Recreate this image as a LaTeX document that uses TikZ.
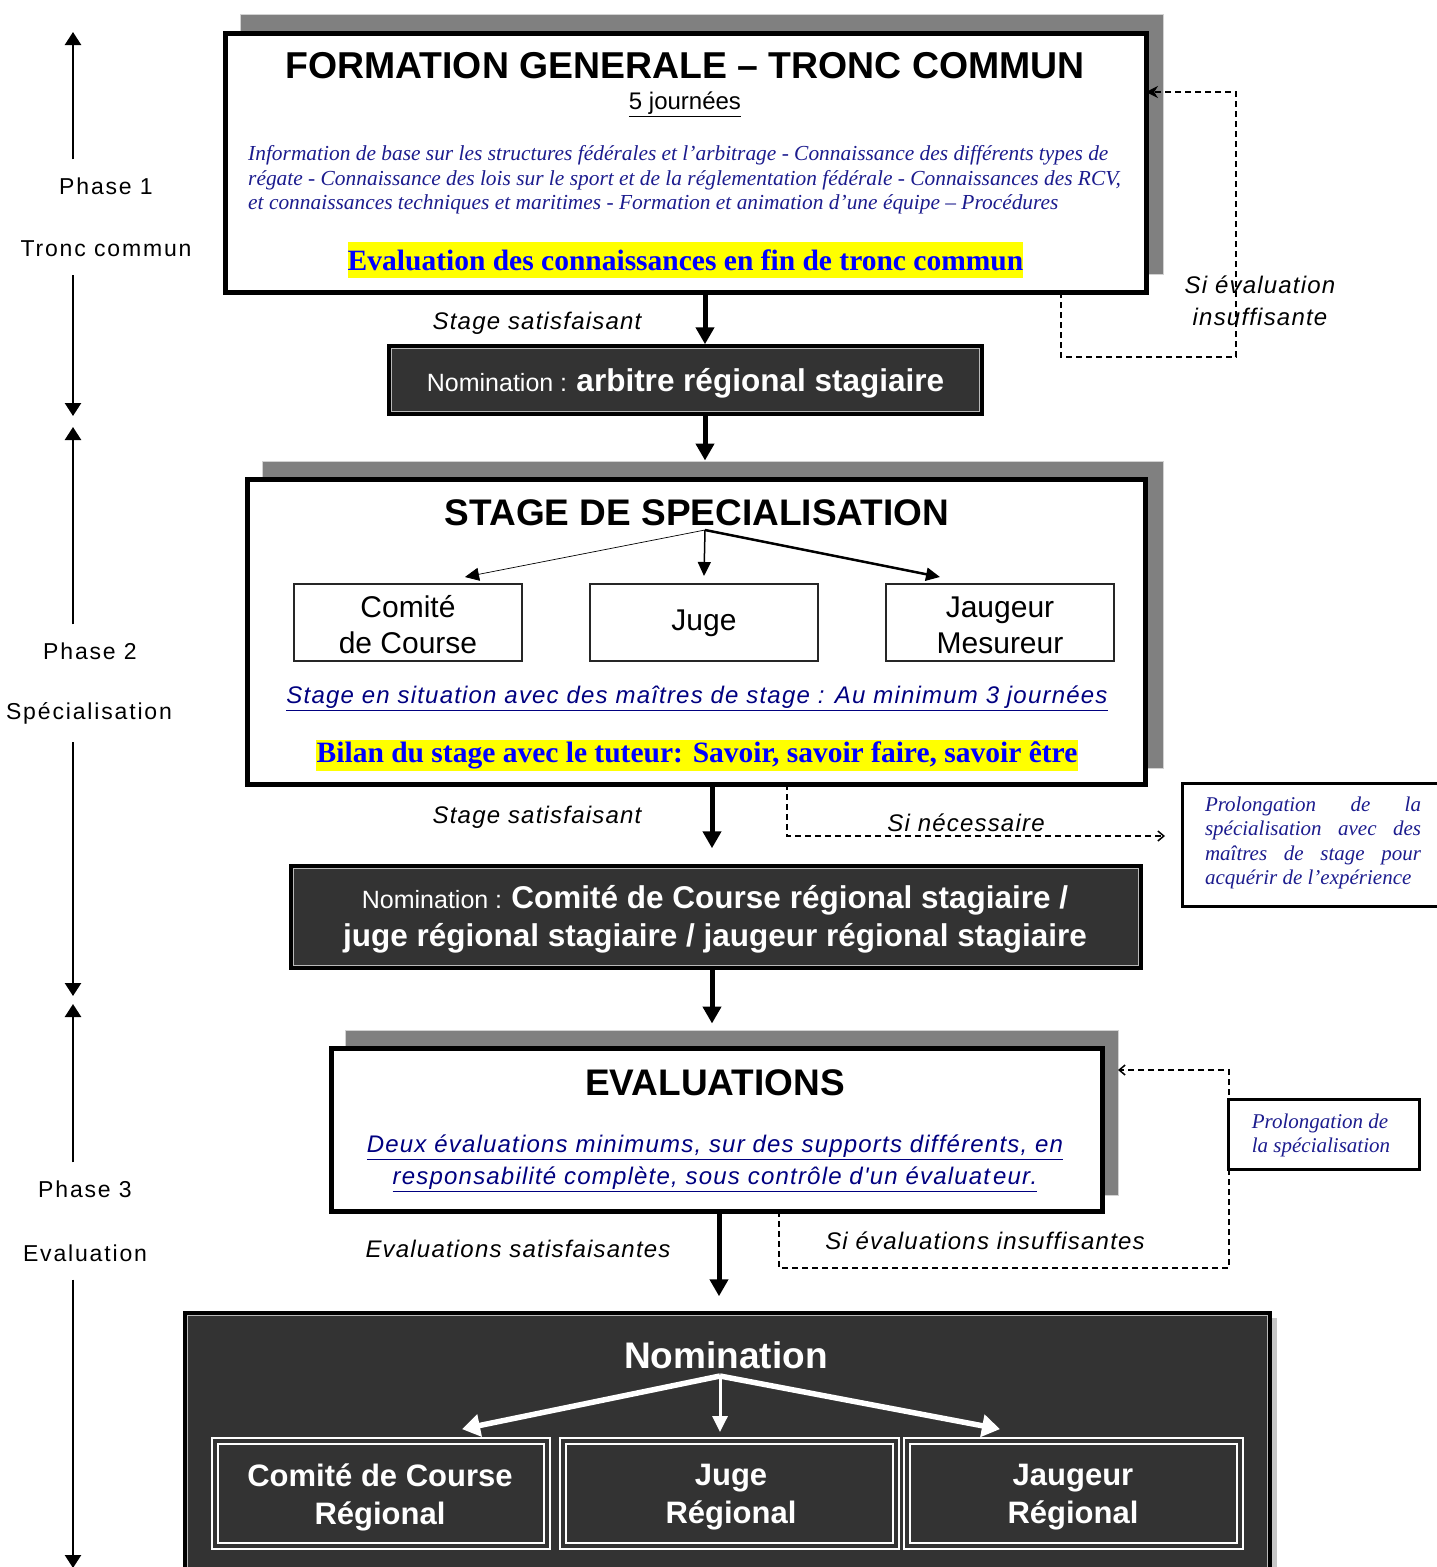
\documentclass[tikz,border=0pt]{standalone}
\usepackage{fontspec}
\setmainfont{Liberation Serif}
\setsansfont{Liberation Sans}
\newfontfamily\arial{Liberation Sans}
\newfontfamily\arialsp[LetterSpace=8]{Liberation Sans}
\newfontfamily\arialit[LetterSpace=5]{Liberation Sans}
\newfontfamily\tnr{Liberation Serif}
\usetikzlibrary{arrows.meta}
\definecolor{navyt}{HTML}{1C1C8E}
\definecolor{ulnavy}{HTML}{000080}
\definecolor{darkfill}{HTML}{333333}
\definecolor{shad}{HTML}{808080}
\definecolor{hlblue}{HTML}{0000FF}
\definecolor{hlyellow}{HTML}{FFFF00}
\newcommand\fsz[2]{\fontsize{#1}{#2}\selectfont}
\newcommand\jl[1]{\makebox[216pt][s]{#1}}
\newcommand\rectnode[6]{\node[#2, minimum width={#5-#3}, minimum height={#6-#4}] (#1) at ({(#3+#5)/2},{(#4+#6)/2}) {};}
\begin{document}
\begin{tikzpicture}[x=1pt,y=-1pt,
  lab/.style={inner sep=0pt},
  phlab/.style={inner sep=18pt, font=\arialsp\fsz{23}{26}},
  itlab/.style={inner sep=0pt, font=\arialit\itshape\fsz{24}{32}},
  shadowbox/.style={fill=shad, draw=gray!35, line width=1pt, inner sep=0pt},
  mainbox/.style={draw=black, line width=5pt, fill=white, inner sep=0pt},
  darkbox/.style={draw=black, line width=3.5pt, fill=darkfill, inner sep=0pt},
  subbox/.style={draw=black!85, line width=2pt, fill=white, inner sep=0pt},
  regbox/.style={draw=white, double=darkfill, double distance=4pt, line width=1.8pt, inner sep=0pt},
  prolbox/.style={draw=black, line width=3pt, fill=white, inner sep=0pt},
  flow/.style={line width=5pt, -{Triangle[length=17pt,width=18pt]}},
  thinflow/.style={-{Triangle[length=14pt,width=13pt]}},
  whiteflow/.style={draw=white, -{Triangle[length=18pt,width=22pt]}},
  loopline/.style={dash pattern=on 6pt off 4pt, line width=1.5pt},
  phase/.style={line width=2.5pt, -{Triangle[length=13pt,width=16pt]}},
  innerline/.style={draw=gray!55, line width=0.8pt}
]
\useasboundingbox[fill=white] (0,0) rectangle (1436,1567);

% ---------- coordinates for columns ----------
\coordinate (x73) at (73,0);
\coordinate (c705) at (705,0);
\coordinate (c712) at (712,0);
\coordinate (c719) at (719,0);

% ---------- shadows ----------
\rectnode{sh1}{shadowbox}{240}{14}{1163}{274}
\rectnode{sh2}{shadowbox}{262}{461}{1163}{768}
\rectnode{sh3}{shadowbox}{345}{1030}{1118}{1195}
\fill[gray!45] (1190,1318) rectangle (1277,1575);

% ---------- dashed loops (behind boxes) ----------
\coordinate (l1end) at (1146,92);
\draw[loopline, -{Stealth[length=12pt,width=12pt]}] (1061,292) -- (1061,357) -- (1236,357) -- (1236,92) -- (l1end);
\coordinate (l2end) at (1165,836);
\draw[loopline, -{Straight Barb[length=6pt,width=10pt]}] (787,784) -- (787,836) -- (l2end);
\coordinate (l3end) at (1118,1070);
\draw[loopline, -{Straight Barb[length=6pt,width=10pt]}] (779,1211) -- (779,1268) -- (1229,1268) -- (1229,1070) -- (l3end);

% ---------- boxes ----------
\rectnode{box1}{mainbox}{225}{33}{1146}{292}
\rectnode{nom1}{darkbox}{389}{346}{982}{414}
\rectnode{box2}{mainbox}{247}{479}{1145}{784}
\rectnode{sb1}{subbox}{294}{584}{522}{661}
\rectnode{sb2}{subbox}{590}{584}{818}{661}
\rectnode{sb3}{subbox}{886}{584}{1114}{661}
\rectnode{nom2}{darkbox}{291}{866}{1141}{968}
\rectnode{box3}{mainbox}{331}{1048}{1102}{1211}
\rectnode{big}{darkbox}{185}{1313}{1270}{1578}
\rectnode{rb1}{regbox}{215}{1441}{547}{1546}
\rectnode{rb2}{regbox}{563}{1441}{896}{1546}
\rectnode{rb3}{regbox}{907}{1441}{1240}{1546}
\rectnode{prol1}{prolbox}{1182}{783}{1450}{906}
\rectnode{prol2}{prolbox}{1228}{1099}{1419}{1169}

\draw[innerline] ([shift={(4.5pt,4.5pt)}]nom1.south west) rectangle ([shift={(-4.5pt,-4.5pt)}]nom1.north east);
\draw[innerline] ([shift={(4.5pt,4.5pt)}]nom2.south west) rectangle ([shift={(-4.5pt,-4.5pt)}]nom2.north east);
\draw[innerline] ([shift={(4.5pt,4.5pt)}]big.south west) rectangle ([shift={(-4.5pt,-4.5pt)}]big.north east);

% ---------- box 1 content ----------
\node[lab, font=\arial\bfseries\fsz{37.4}{40}] (t1) at (685,66) {FORMATION GENERALE – TRONC COMMUN};
\node[lab, font=\arial\fsz{24}{26}] (t1b) at (685,104) {\underline{5 journées}};
\node[lab, anchor=west, text=navyt, align=left, font=\tnr\itshape\fsz{21.4}{24.5}] (t1c) at (248,180) {Information de base sur les structures fédérales et l’arbitrage - Connaissance des différents types de\\régate  - Connaissance des lois sur le sport et de la réglementation fédérale - Connaissances des RCV,\\et connaissances techniques et maritimes - Formation et animation d’une équipe  – Procédures};
\node[fill=hlyellow, minimum width=675pt, minimum height=36pt, inner sep=0pt, text=hlblue, font=\tnr\bfseries\fsz{29.5}{30}] (hl1) at (685.5,260) {Evaluation des connaissances en fin de tronc commun};

% ---------- nomination 1 ----------
\node[lab, text=white] (nom1t) at (685.5,383) {\arial\fsz{25}{28}Nomination : \fsz{31.5}{34}\bfseries arbitre régional stagiaire};

% ---------- box 2 content ----------
\node[lab, font=\arial\bfseries\fsz{37}{40}] (t2) at (697,513) {STAGE DE SPECIALISATION};
\coordinate (hub2) at (705,530);
\draw[thinflow, line width=0.7pt] (hub2) -- ([xshift=57pt,yshift=6pt]sb1.north);
\draw[thinflow, line width=1.5pt] (hub2) -- ([yshift=7pt]sb2.north);
\draw[thinflow, line width=2.5pt] (hub2) -- ([xshift=-60pt,yshift=6pt]sb3.north);
\node[lab, align=center, font=\arial\fsz{30}{36}] (sb1t) at (408,625) {Comité\\de Course};
\node[lab, font=\arial\fsz{30}{36}] (sb2t) at (704,623) {Juge};
\node[lab, align=center, font=\arial\fsz{30}{36}] (sb3t) at (1000,625) {Jaugeur\\Mesureur};
\node[lab, text=ulnavy, font=\arialit\itshape\fsz{24}{26}] (st2) at (697,698) {\underline{Stage en situation avec des maîtres de stage : Au minimum 3 journées}};
\node[fill=hlyellow, minimum width=762pt, minimum height=31pt, inner sep=0pt, text=hlblue, font=\tnr\bfseries\fsz{29.5}{30}] (hl2) at (697,755) {Bilan du stage avec le tuteur: Savoir, savoir faire, savoir être};

% ---------- nomination 2 ----------
\node[lab, text=white, align=center, font=\arial\fsz{31.5}{38}] (nom2t) at (715,919) {{\fsz{25}{38}Nomination : }\textbf{Comité de Course régional stagiaire /}\\\textbf{juge régional stagiaire / jaugeur régional stagiaire}};

% ---------- box 3 content ----------
\node[lab, font=\arial\bfseries\fsz{37}{40}] (t3) at (715,1083) {EVALUATIONS};
\node[lab, text=ulnavy, align=center, font=\arialit\itshape\fsz{24}{32}] (t3b) at (715,1163) {\underline{Deux évaluations minimums, sur des supports différents, en}\\\underline{responsabilité complète, sous contrôle d'un évaluat\hspace{3pt}eur.}};

% ---------- big nomination ----------
\node[lab, text=white, font=\arial\bfseries\fsz{37}{40}] (t4) at (726,1355) {Nomination};
\coordinate (hub4) at (720,1376);
\draw[whiteflow, line width=5.5pt] (hub4) -- ([xshift=81pt,yshift=11pt]rb1.north);
\draw[whiteflow, line width=3pt, -{Triangle[length=16pt,width=15pt]}] (hub4) -- ([xshift=-9.5pt,yshift=8pt]rb2.north);
\draw[whiteflow, line width=5.5pt] (hub4) -- ([xshift=-73.5pt,yshift=11pt]rb3.north);
\node[lab, text=white, align=center, font=\arial\bfseries\fsz{31}{38}] (rb1t) at (380,1497) {Comité de Course\\Régional};
\node[lab, text=white, align=center, font=\arial\bfseries\fsz{31}{38}] (rb2t) at (731,1497) {Juge\\Régional};
\node[lab, text=white, align=center, font=\arial\bfseries\fsz{31}{38}] (rb3t) at (1073,1497) {Jaugeur\\Régional};

% ---------- prolongation texts ----------
\node[lab, text=navyt, align=left, font=\tnr\itshape\fsz{21}{24.6}] (prol1t) at (1313,843) {\jl{Prolongation de la}\\\jl{spécialisation avec des}\\\jl{maîtres de stage pour}\\acquérir de l’expérience};
\node[lab, text=navyt, align=left, font=\tnr\itshape\fsz{21}{24}] (prol2t) at (1321,1135) {Prolongation de\\la spécialisation};

% ---------- main flow arrows ----------
\draw[flow] (box1.south -| c705) -- (nom1.north -| c705);
\draw[flow] (nom1.south -| c705) -- (sh2.north -| c705);
\path (nom2.north -| c712) ++(0,-16) coordinate (n2in);
\draw[flow] (box2.south -| c712) -- (n2in);
\draw[flow] (nom2.south -| c712) -- ([yshift=6pt]sh3.north -| c712);
\path (big.north -| c719) ++(0,-15) coordinate (bigin);
\draw[flow] (box3.south -| c719) -- (bigin);

% ---------- flow labels ----------
\node[itlab] (lb1) at (537,323) {Stage satisfaisant};
\node[itlab] (lb2) at (537,817) {Stage satisfaisant};
\node[itlab] (lb3) at (518,1249) {Evaluations satisfaisantes};
\node[itlab, align=center] (lb4) at (1260,301) {Si évaluation\\insuffisante};
\node[itlab] (lb5) at (966,823) {Si nécessaire};
\node[itlab] (lb6) at (985,1241) {Si évaluations insuffisantes};

% ---------- phases ----------
\node[phlab] (p1a) at (106,186) {Phase 1};
\node[phlab] (p1b) at (106,249) {Tronc commun};
\node[phlab] (p2a) at (90,651) {Phase 2};
\node[phlab] (p2b) at (89,713) {Spécialisation};
\node[phlab] (p3a) at (85,1189) {Phase 3};
\node[phlab] (p3b) at (85,1253) {Evaluation};
\coordinate (p1top) at (73,32);
\coordinate (p1bot) at (73,416);
\coordinate (p2top) at (73,427);
\coordinate (p2bot) at (73,996);
\coordinate (p3top) at (73,1004);
\coordinate (p3bot) at (73,1568);
\draw[phase] (p1a.north -| x73) -- (p1top);
\draw[phase] (p1b.south -| x73) -- (p1bot);
\draw[phase] (p2a.north -| x73) -- (p2top);
\draw[phase] (p2b.south -| x73) -- (p2bot);
\draw[phase] (p3a.north -| x73) -- (p3top);
\draw[phase] (p3b.south -| x73) -- (p3bot);
\end{tikzpicture}
\end{document}
